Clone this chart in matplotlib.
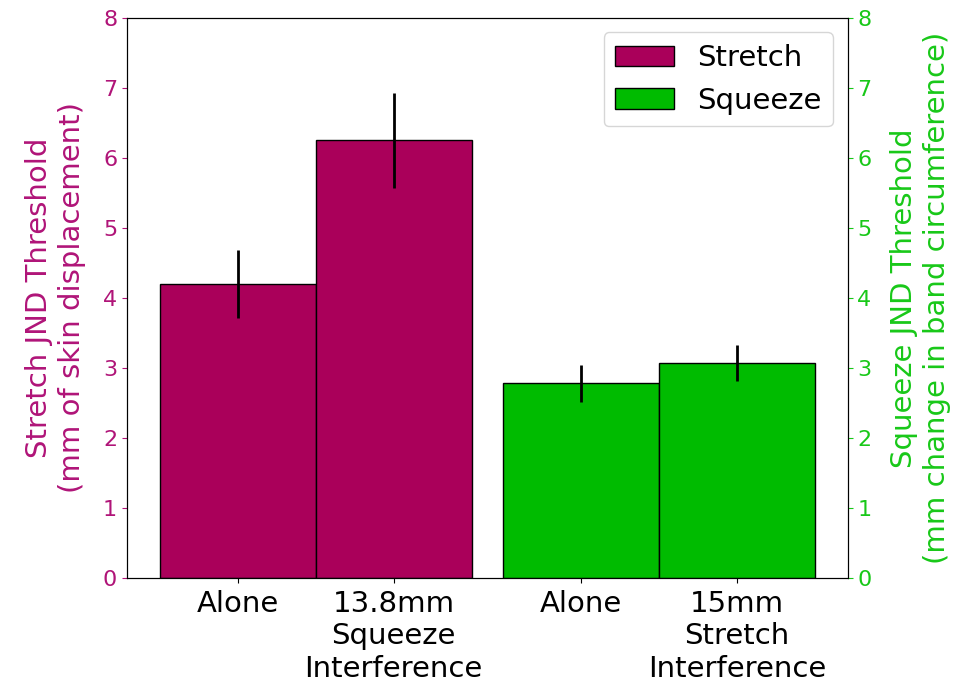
import numpy as np
import matplotlib
matplotlib.use("Agg")
import matplotlib.pyplot as plt

# JND thresholds (mean and error half-width)
conditions = ["Alone", "13.8mm\nSqueeze\nInterference", "Alone", "15mm\nStretch\nInterference"]
stretch_mean = [4.20, 6.25]
stretch_err = [0.49, 0.68]
squeeze_mean = [2.78, 3.07]
squeeze_err = [0.26, 0.26]

stretch_color = "#aa005a"
squeeze_color = "#00bb00"
stretch_text = "#b01478"
squeeze_text = "#18c818"

stretch_x = np.array([0.0, 1.0])
squeeze_x = np.array([2.2, 3.2])

fig, ax = plt.subplots(figsize=(9.61, 6.88), dpi=100)
ax2 = ax.twinx()

b1 = ax.bar(stretch_x, stretch_mean, width=1.0, color=stretch_color,
            edgecolor="black", linewidth=1, label="Stretch")
ax.errorbar(stretch_x, stretch_mean, yerr=stretch_err, fmt="none",
            ecolor="black", elinewidth=2, capsize=0)
b2 = ax2.bar(squeeze_x, squeeze_mean, width=1.0, color=squeeze_color,
             edgecolor="black", linewidth=1, label="Squeeze")
ax2.errorbar(squeeze_x, squeeze_mean, yerr=squeeze_err, fmt="none",
             ecolor="black", elinewidth=2, capsize=0)

ax.set_ylim(0, 8)
ax2.set_ylim(0, 8)
ax.set_xticks(np.concatenate([stretch_x, squeeze_x]))
ax.set_xticklabels(conditions, fontsize=21, linespacing=1.2)
ax.tick_params(axis="x", pad=5)

ax.set_ylabel("Stretch JND Threshold\n(mm of skin displacement)",
              color=stretch_text, fontsize=21, labelpad=12, linespacing=1.25)
ax2.set_ylabel("Squeeze JND Threshold\n(mm change in band circumference)",
               color=squeeze_text, fontsize=21, labelpad=13, linespacing=1.25)
ax.tick_params(axis="y", colors=stretch_text, labelsize=16)
ax2.tick_params(axis="y", colors=squeeze_text, labelsize=16)

ax2.legend([b1, b2], ["Stretch", "Squeeze"], loc="upper right", fontsize=21)

fig.subplots_adjust(left=0.132, right=0.882, top=0.974, bottom=0.16)
fig.savefig("out.png", dpi=100)
